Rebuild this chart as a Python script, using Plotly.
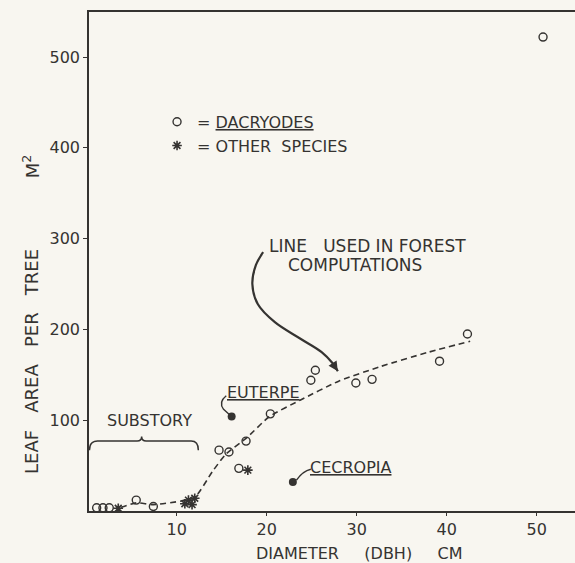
import plotly.graph_objects as go

INK = "#353331"
BG = "#f8f6f0"
FONT = "DejaVu Sans"

# Dacryodes (open circles)
dac_x = [1.1, 1.8, 2.5, 5.5, 7.4, 14.7, 15.8, 16.9, 17.7, 20.4, 24.9, 25.4, 29.9, 31.7, 39.2, 42.3, 50.7]
dac_y = [3.5, 3.5, 3.5, 12, 5, 67, 65, 47, 77, 107, 144, 155, 141, 145, 165, 195, 522]

# Other species (asterisks)
oth_x = [3.5, 10.9, 11.3, 11.7, 12.0, 17.9]
oth_y = [3, 8, 12, 7, 14, 45]

# Named species (filled dots)
named_x = [16.1, 22.9]
named_y = [104, 32]

# Line used in forest computations
line_x = [3.8, 5.5, 7.4, 10.5, 12.0, 14.0, 15.5, 17.7, 20.3, 23.7, 28.0, 32.6, 38.0, 42.6]
line_y = [4, 9, 7, 11, 15, 44, 63, 80, 104, 122, 143, 159, 175, 187]

# Curved pointer from the label to the line
arrow_x = [19.6, 18.8, 18.4, 19.0, 20.9, 23.7, 26.1, 27.3, 27.9]
arrow_y = [285, 271, 250, 228, 208, 190, 175, 163, 154]

x_ticks = [10, 20, 30, 40, 50]
y_ticks = [100, 200, 300, 400, 500]

fig = go.Figure()

fig.add_trace(go.Scatter(
    x=line_x, y=line_y, mode="lines", showlegend=False,
    line=dict(color=INK, width=1.6, dash="6px,4px", shape="spline", smoothing=0.6),
    hoverinfo="skip"))

fig.add_trace(go.Scatter(
    x=arrow_x, y=arrow_y, mode="lines", showlegend=False,
    line=dict(color=INK, width=2.2, shape="spline", smoothing=1.0),
    hoverinfo="skip"))

fig.add_trace(go.Scatter(
    x=dac_x, y=dac_y, mode="markers", name="= <u>DACRYODES</u>",
    marker=dict(symbol="circle-open", size=8, color=INK, line=dict(width=1.4, color=INK))))

fig.add_trace(go.Scatter(
    x=oth_x, y=oth_y, mode="markers", name="= OTHER  SPECIES",
    marker=dict(symbol="asterisk-open", size=8, color=INK, line=dict(width=1.6, color=INK))))

fig.add_trace(go.Scatter(
    x=named_x, y=named_y, mode="markers", showlegend=False,
    marker=dict(symbol="circle", size=8, color=INK)))

ann = []
def txt(x, y, t, size=16, **kw):
    ann.append(dict(x=x, y=y, xref="x", yref="y", text=t, showarrow=False,
                    font=dict(family=FONT, size=size, color=INK), **kw))

txt(31.2, 292, "LINE   USED IN FOREST", size=17)
txt(29.8, 271, "COMPUTATIONS", size=17)
txt(19.6, 131, "<u>EUTERPE</u>")
txt(29.4, 48, "<u>CECROPIA</u>")
txt(7.0, 100, "SUBSTORY")

# arrowhead at the end of the pointer
ann.append(dict(x=arrow_x[-1], y=arrow_y[-1], ax=arrow_x[-2], ay=arrow_y[-2],
                xref="x", yref="y", axref="x", ayref="y", text="", showarrow=True,
                arrowhead=2, arrowsize=1.2, arrowwidth=1.6, arrowcolor=INK))

# axis titles
ann.append(dict(x=-0.118, y=0.30, xref="paper", yref="paper", text="LEAF   AREA   PER   TREE",
                textangle=-90, showarrow=False, xanchor="center", yanchor="middle",
                font=dict(family=FONT, size=18, color=INK)))
ann.append(dict(x=-0.12, y=0.69, xref="paper", yref="paper", text="M<sup>2</sup>",
                textangle=-90, showarrow=False, xanchor="center", yanchor="middle",
                font=dict(family=FONT, size=18, color=INK)))
ann.append(dict(x=0.556, y=-0.085, xref="paper", yref="paper", text="DIAMETER     (DBH)     CM",
                showarrow=False, xanchor="center", yanchor="middle",
                font=dict(family=FONT, size=16, color=INK)))

shapes = [
    # substory bracket
    dict(type="path", xref="x", yref="y",
         path="M 0.3,67 Q 0.3,77 1.2,77 L 5.6,77 Q 6.1,77 6.1,82 Q 6.1,77 6.6,77 L 11.6,77 Q 12.4,77 12.4,67",
         line=dict(color=INK, width=1.5)),
    # Euterpe leader
    dict(type="path", xref="x", yref="y",
         path="M 15.5,127 Q 14.6,120 15.2,112 L 16.0,105",
         line=dict(color=INK, width=1.4)),
    # Cecropia leader
    dict(type="path", xref="x", yref="y",
         path="M 24.9,46 Q 24.0,44 23.3,34",
         line=dict(color=INK, width=1.4)),
]

fig.update_layout(
    width=575, height=563,
    margin=dict(l=89, r=0, t=12, b=52),
    paper_bgcolor=BG, plot_bgcolor=BG,
    font=dict(family=FONT, size=16, color=INK),
    annotations=ann, shapes=shapes,
    legend=dict(x=0.14, y=0.814, xanchor="left", yanchor="top",
                bgcolor="rgba(0,0,0,0)", font=dict(family=FONT, size=16, color=INK),
                itemwidth=30, tracegroupgap=0),
)
fig.update_xaxes(range=[0.25, 54.25], tickvals=x_ticks, showgrid=False, zeroline=False,
                 showline=True, linecolor=INK, linewidth=1.5, mirror=True,
                 ticks="outside", ticklen=3, tickcolor=INK, tickfont=dict(size=16))
fig.update_yaxes(range=[0, 549.6], tickvals=y_ticks, showgrid=False, zeroline=False,
                 showline=True, linecolor=INK, linewidth=1.5,
                 ticks="outside", ticklen=4, tickcolor=INK, tickfont=dict(size=16))

fig.write_html("out.html", config={"displayModeBar": False},
               post_script="document.body.style.margin='0';document.body.style.background='%s';" % BG)
